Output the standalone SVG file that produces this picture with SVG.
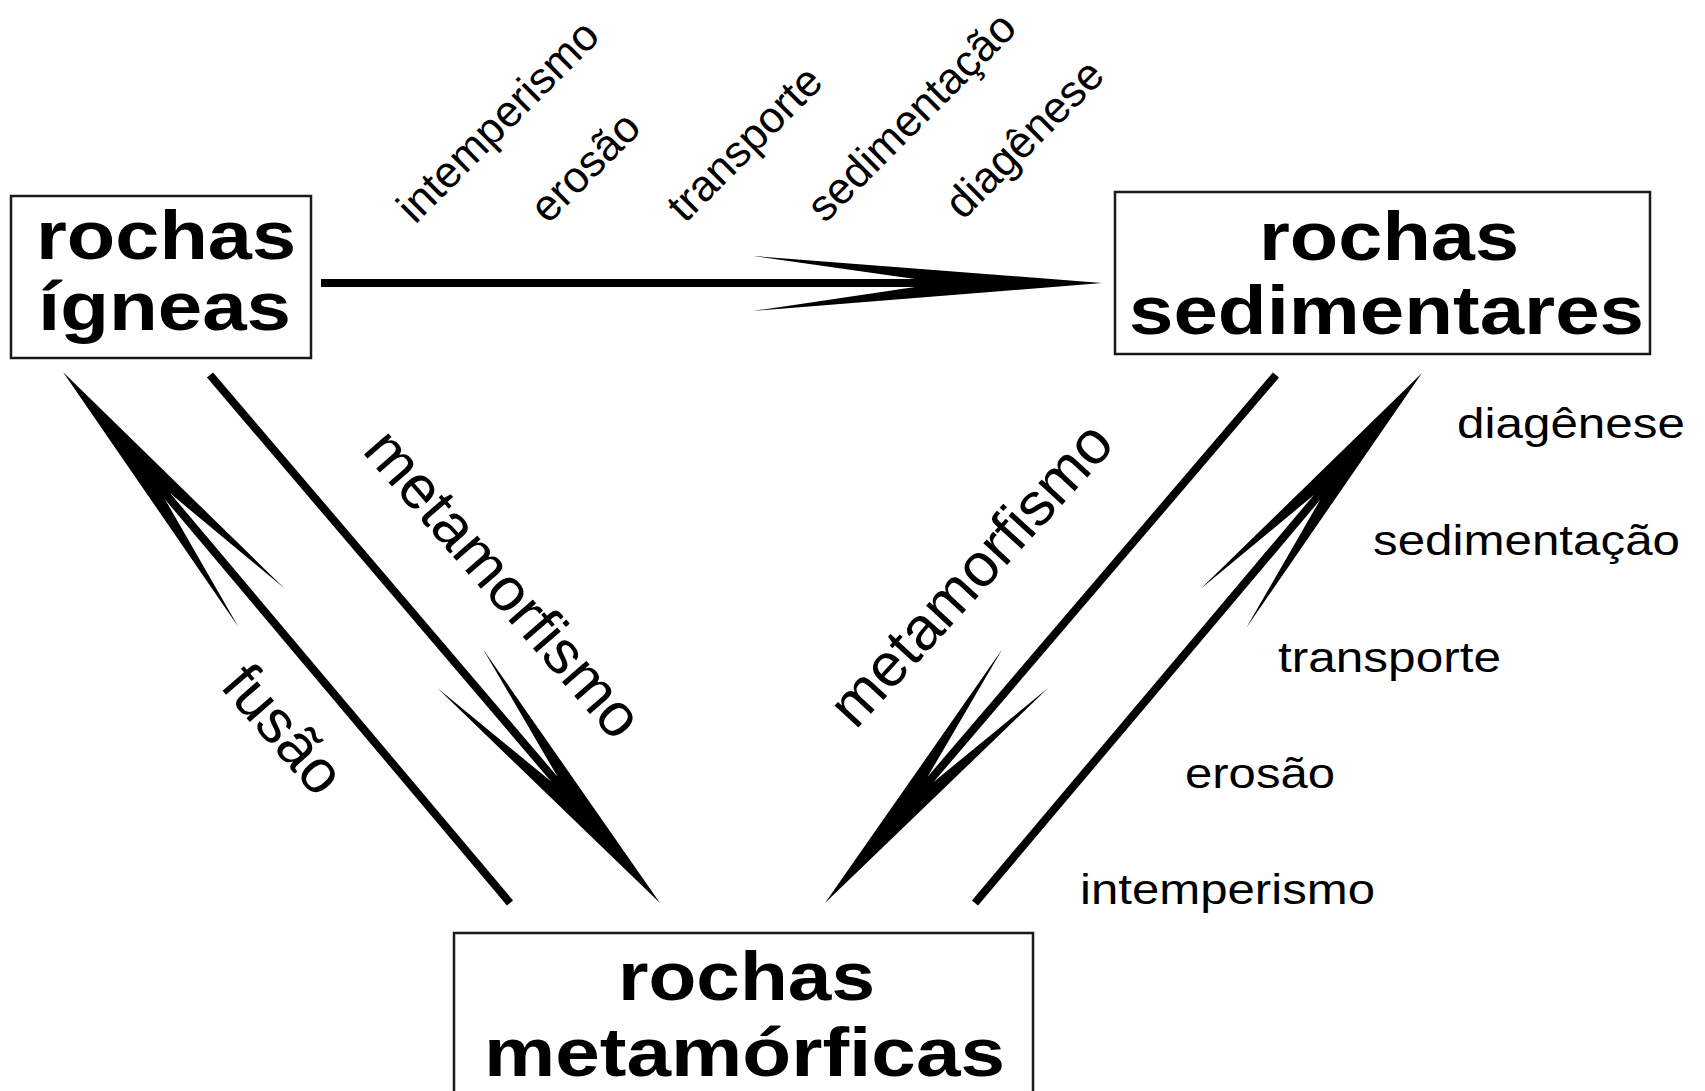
<svg xmlns="http://www.w3.org/2000/svg" width="1705" height="1091" viewBox="0 0 1705 1091">
<style>
.box{fill:#fff;stroke:#1a1a1a;stroke-width:2.5}
.big{font-family:"Liberation Sans",Arial,sans-serif;font-weight:bold;font-size:68px;fill:#000}
.lbl{font-family:"Liberation Sans",Arial,sans-serif;font-size:43px;fill:#000}
.top{font-family:"Liberation Sans",Arial,sans-serif;font-size:44px;fill:#000}
.diag{font-family:"Liberation Sans",Arial,sans-serif;font-size:61px;fill:#000;text-anchor:middle}
.shaft{stroke:#000;stroke-width:8;stroke-linecap:butt;fill:none}
.head{fill:#000}
</style>
<defs>
<path id="headH" d="M0,0 L-349,-27 L-187,-4 L-187,4 L-349,28 Z"/>
<path id="headD" d="M0,0 L-308,-30 L-163,-4 L-163,4 L-308,30 Z"/>
</defs>
<rect width="1705" height="1091" fill="#fff"/>

<g id="node-igneas">
<rect class="box" x="11" y="196" width="300" height="162"/>
<text class="big" x="36" y="259" textLength="260" lengthAdjust="spacingAndGlyphs">rochas</text>
<text class="big" x="38" y="330" textLength="253" lengthAdjust="spacingAndGlyphs">ígneas</text>
</g>

<g id="node-sedimentares">
<rect class="box" x="1115" y="192" width="535" height="162"/>
<text class="big" x="1259" y="260" textLength="260" lengthAdjust="spacingAndGlyphs">rochas</text>
<text class="big" x="1129" y="334" textLength="515" lengthAdjust="spacingAndGlyphs">sedimentares</text>
</g>

<g id="node-metamorficas">
<rect class="box" x="454" y="933" width="579" height="180"/>
<text class="big" x="618" y="1000" textLength="257" lengthAdjust="spacingAndGlyphs">rochas</text>
<text class="big" x="484" y="1076" textLength="521" lengthAdjust="spacingAndGlyphs">metamórficas</text>
</g>

<g id="connectors">
<line class="shaft" x1="321" y1="283" x2="930" y2="283"/>
<use class="head" href="#headH" transform="translate(1102,283)"/>

<line class="shaft" x1="510" y1="903" x2="159.6" y2="486.8"/>
<use class="head" href="#headD" transform="translate(63,372) rotate(229.9)"/>

<line class="shaft" x1="210" y1="375" x2="562.6" y2="788.8"/>
<use class="head" href="#headD" transform="translate(660,903) rotate(49.56)"/>

<line class="shaft" x1="1276" y1="375" x2="922.4" y2="789"/>
<use class="head" href="#headD" transform="translate(825,903) rotate(130.5)"/>

<line class="shaft" x1="975" y1="903" x2="1325.3" y2="487.6"/>
<use class="head" href="#headD" transform="translate(1422,373) rotate(-49.85)"/>
</g>

<g id="labels-top">
<text class="top" transform="translate(415,225) rotate(-45)">intemperismo</text>
<text class="top" transform="translate(548,225) rotate(-45)">erosão</text>
<text class="top" transform="translate(685,224) rotate(-45)">transporte</text>
<text class="top" transform="translate(825,224) rotate(-45)">sedimentação</text>
<text class="top" transform="translate(963,221) rotate(-45)">diagênese</text>
</g>

<g id="labels-right">
<text class="lbl" x="1457" y="438" textLength="228" lengthAdjust="spacingAndGlyphs">diagênese</text>
<text class="lbl" x="1373" y="555" textLength="307" lengthAdjust="spacingAndGlyphs">sedimentação</text>
<text class="lbl" x="1278" y="672" textLength="223" lengthAdjust="spacingAndGlyphs">transporte</text>
<text class="lbl" x="1185" y="788" textLength="150" lengthAdjust="spacingAndGlyphs">erosão</text>
<text class="lbl" x="1080" y="904" textLength="295" lengthAdjust="spacingAndGlyphs">intemperismo</text>
</g>

<g id="labels-diagonal">
<text class="diag" transform="translate(488,597) rotate(49)">metamorfismo</text>
<text class="diag" transform="translate(268,743) rotate(49)">fusão</text>
<text class="diag" transform="translate(986,588) rotate(-47.5)">metamorfismo</text>
</g>
</svg>
